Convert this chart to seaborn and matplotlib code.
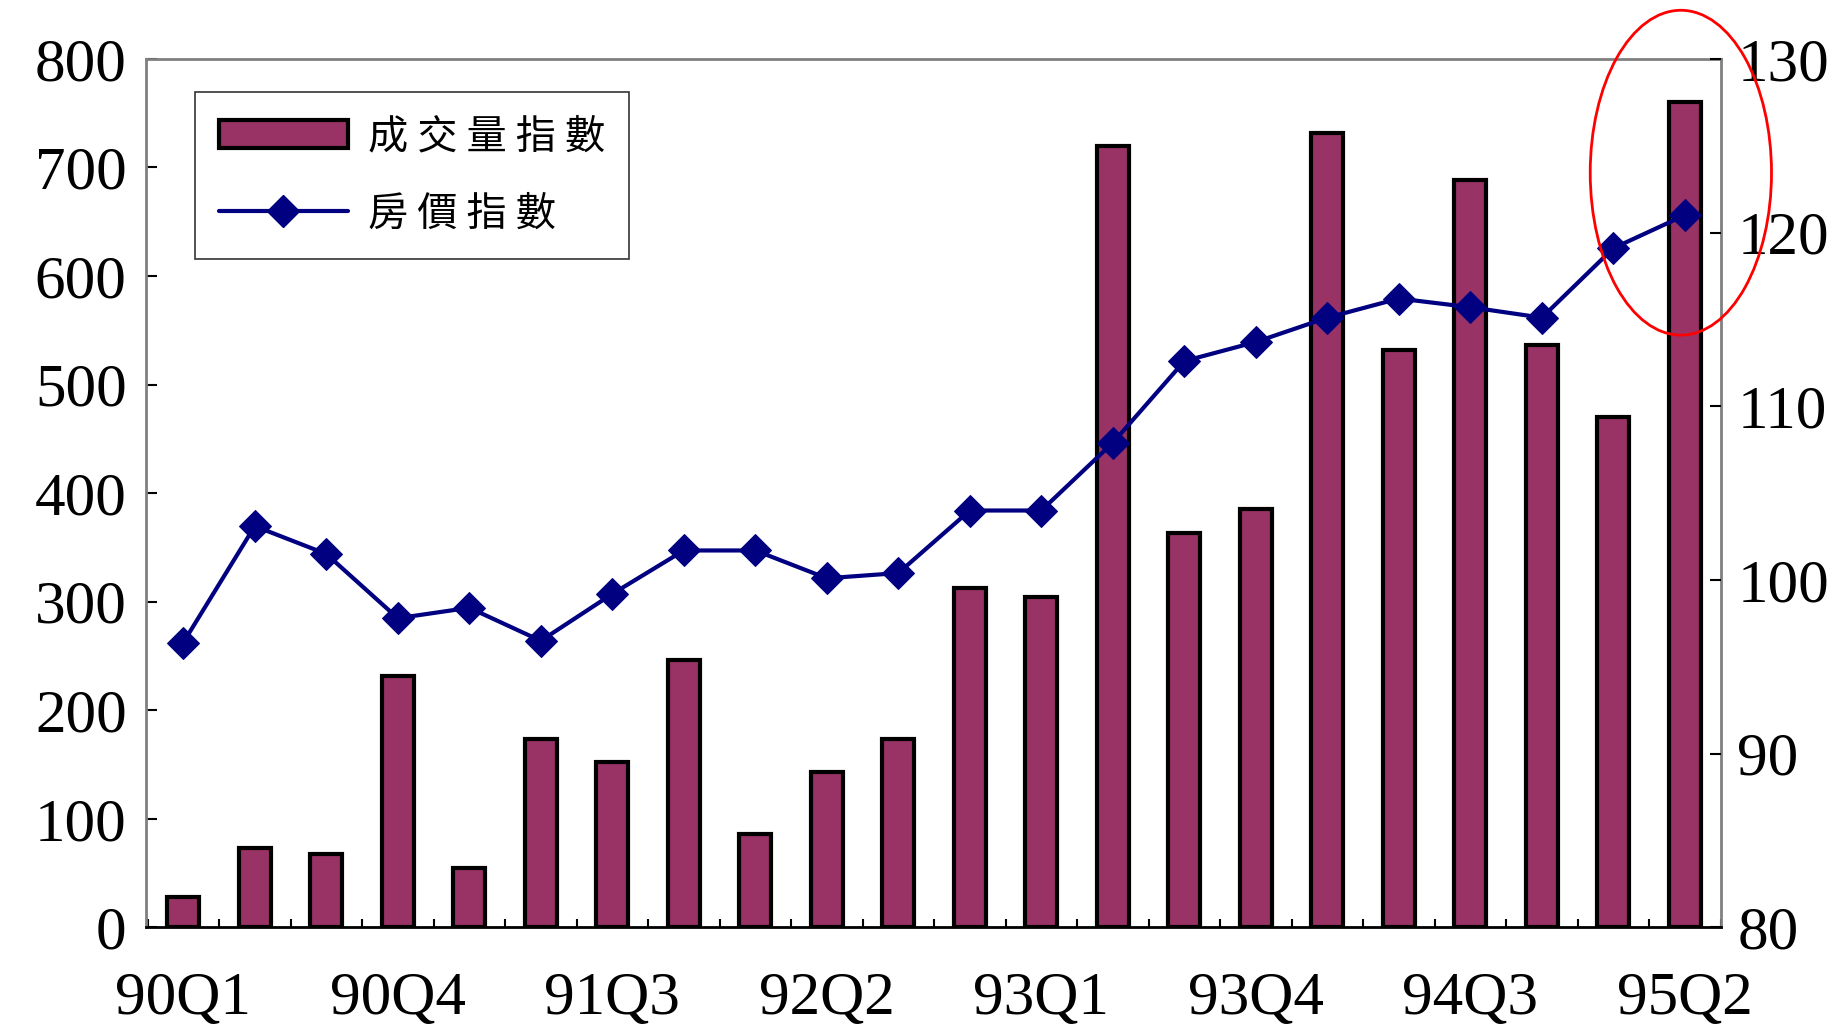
import matplotlib.pyplot as plt
from matplotlib.patches import Ellipse
from matplotlib.lines import Line2D
from matplotlib.patches import Patch
import seaborn as sns
import numpy as np

quarters = ["90Q1", "90Q2", "90Q3", "90Q4", "91Q1", "91Q2", "91Q3", "91Q4",
            "92Q1", "92Q2", "92Q3", "92Q4", "93Q1", "93Q2", "93Q3", "93Q4",
            "94Q1", "94Q2", "94Q3", "94Q4", "95Q1", "95Q2"]
volume = [28, 73, 68, 232, 55, 174, 152, 246, 86, 143, 174, 313, 304, 720,
          363, 385, 732, 532, 688, 536, 470, 760]
price = [96.4, 103.1, 101.5, 97.8, 98.4, 96.5, 99.2, 101.7, 101.7, 100.1,
         100.4, 104.0, 104.0, 107.9, 112.6, 113.7, 115.1, 116.2, 115.7, 115.1,
         119.1, 121.0]

sns.set_style("white")
plt.rcParams["font.family"] = ["Liberation Serif", "Noto Sans CJK TC"]
plt.rcParams["text.color"] = "black"
plt.rcParams["xtick.color"] = "black"
plt.rcParams["ytick.color"] = "black"

fig = plt.figure(figsize=(18.33, 10.28), dpi=100)
ax = fig.add_axes([0.0797, 0.0978, 0.859, 0.845])
x = np.arange(len(quarters))
sns.barplot(x=x, y=volume, color="#993366", edgecolor="black", linewidth=3,
            width=0.45, saturation=1, ax=ax)
ax.set_xlim(-0.52, 21.5)
ax.set_ylim(0, 800)
ax.set_yticks(range(0, 801, 100))
ax.set_xticks(x[::3])
ax.set_xticklabels(quarters[::3])
ax.set_xticks(np.arange(-0.5, 21.6, 1), minor=True)
ax.tick_params(axis="x", which="minor", direction="in", length=6, width=1.5, bottom=True)
ax.tick_params(axis="x", which="major", length=0, pad=32)
ax.tick_params(axis="y", direction="in", length=8, width=1.5, left=True, pad=14)
ax.tick_params(labelsize=44)
for s in ax.spines.values():
    s.set_color("#808080")
    s.set_linewidth(2)
ax.spines["bottom"].set_color("black")

ax2 = ax.twinx()
sns.lineplot(x=x, y=price, color="#000080", linewidth=3, marker="D",
             markersize=16, markeredgecolor="#000080", ax=ax2)
ax2.set_ylim(80, 130)
ax2.set_yticks(range(80, 131, 10))
ax2.tick_params(axis="y", direction="in", length=8, width=1.5, right=True,
                labelsize=44, pad=12)
for s in ax2.spines.values():
    s.set_visible(False)

handles = [Patch(facecolor="#993366", edgecolor="black", linewidth=3),
           Line2D([], [], color="#000080", linewidth=3, marker="D", markersize=16)]
leg = ax.legend(handles, ["成 交 量 指 數", "房 價 指 數"], loc="upper left",
                bbox_to_anchor=(0.018, 0.985), frameon=True,
                fancybox=False, handlelength=3.2, borderpad=0.6,
                labelspacing=0.9, handletextpad=0.5,
                prop={"family": ["Noto Sans CJK TC"], "size": 29})
leg.get_frame().set_edgecolor("black")
leg.get_frame().set_linewidth(1.2)

fig.add_artist(Ellipse((0.917, 0.832), 0.0989, 0.316, transform=fig.transFigure,
                       fill=False, edgecolor="red", linewidth=2))

fig.savefig("out.png")
